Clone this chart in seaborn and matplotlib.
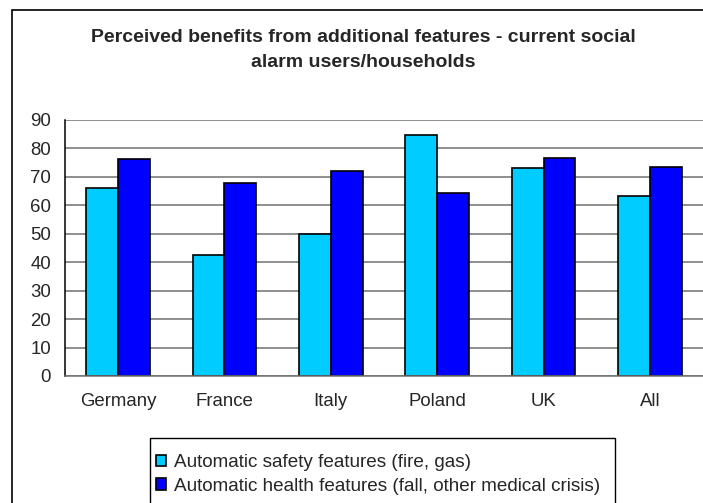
import numpy as np
import pandas as pd
import matplotlib
matplotlib.use("Agg")
import matplotlib.pyplot as plt
import seaborn as sns
from matplotlib.patches import Rectangle

# data
countries = ["Germany", "France", "Italy", "Poland", "UK", "All"]
safety = [66, 42.5, 50, 84.6, 73, 63.3]
health = [76.2, 68, 72.2, 64.3, 76.8, 73.6]
series_names = ["Automatic safety features (fire, gas)",
                "Automatic health features (fall, other medical crisis)"]
colors = ["#00CCFF", "#0000FF"]

df = pd.DataFrame({
    "country": countries * 2,
    "value": safety + health,
    "series": [series_names[0]] * len(countries) + [series_names[1]] * len(countries),
})

sns.set_style("white")
plt.rcParams["font.family"] = ["Liberation Sans", "DejaVu Sans"]

W, H = 703, 503
fig = plt.figure(figsize=(W / 100, H / 100), dpi=100)
ax = fig.add_axes([65 / W, 1 - 376 / H, 638 / W, 256 / H])

sns.barplot(data=df, x="country", y="value", hue="series", palette=colors,
            width=0.6, gap=0, edgecolor="black", linewidth=1.2,
            saturation=1, ax=ax, legend=True)

ax.set_ylim(0, 90)
ax.set_xlim(-0.5, 5.5)
ax.set_yticks(range(0, 91, 10))
ax.set_xlabel("")
ax.set_ylabel("")
ax.yaxis.grid(True, color="#707070", linewidth=1.1)
ax.set_axisbelow(True)
for s in ["top", "right"]:
    ax.spines[s].set_visible(False)
ax.spines["left"].set_color("black")
ax.spines["left"].set_linewidth(1.1)
ax.spines["bottom"].set_color("#707070")
ax.spines["bottom"].set_linewidth(1.1)
ax.tick_params(axis="y", length=4, width=1, color="black", pad=6, labelsize=13.4)
ax.set_xticks(np.arange(-0.5, 6.0, 1.0), minor=True)
ax.tick_params(axis="x", which="major", length=0, pad=12, labelsize=13.4)
ax.tick_params(axis="x", which="minor", length=4, width=1, color="#707070")

handles, labels = ax.get_legend_handles_labels()
ax.get_legend().remove()
leg = fig.legend(handles, labels, loc="upper left",
                 bbox_to_anchor=(156 / W, 1 - 454 / H), frameon=False,
                 fontsize=13.6, handlelength=0.55, handleheight=0.55,
                 handletextpad=0.4, labelspacing=0.35, borderpad=0,
                 borderaxespad=0)

# legend box, runs off the bottom like the reference
fig.patches.append(Rectangle((150 / W, -0.05), 465 / W, 1 - 438 / H + 0.05,
                             transform=fig.transFigure, fill=False,
                             edgecolor="black", linewidth=1.0))

fig.text(363 / W, 1 - 50 / H,
         "Perceived benefits from additional features - current social\nalarm users/households",
         ha="center", va="center", fontsize=14, fontweight="bold", linespacing=1.55)

# outer chart frame
fig.patches.append(Rectangle((12 / W, -0.05), 1.0, 1 - 10 / H + 0.05,
                             transform=fig.transFigure, fill=False,
                             edgecolor="black", linewidth=1.2))

fig.savefig("out.png", dpi=100)
